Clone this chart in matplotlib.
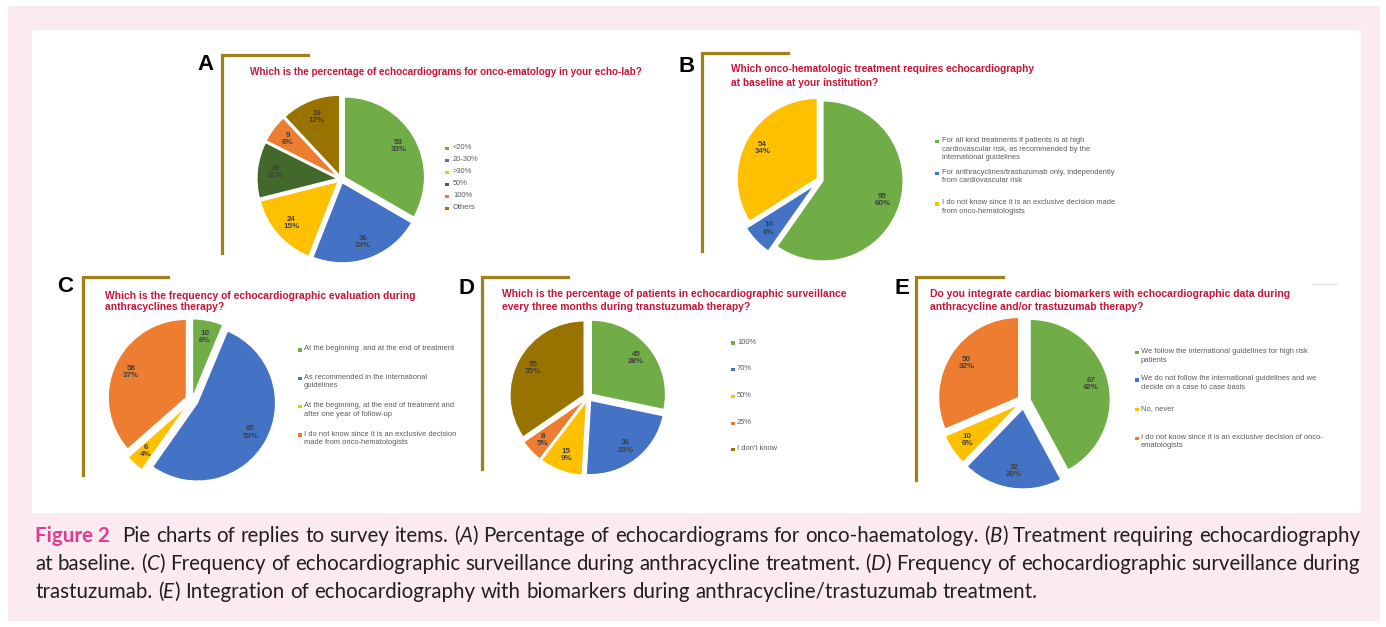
import matplotlib
matplotlib.use("Agg")
import matplotlib.pyplot as plt
from matplotlib.patches import Rectangle

W, H = 1386, 627

# colours used by the survey charts
GREEN = "#70AD47"
BLUE = "#4472C4"
YELLOW = "#FFC000"
DKGREEN = "#43682B"
ORANGE = "#ED7D31"
BROWN = "#997300"

# ---- data ----
a_labels = ["<20%", "20-30%", ">30%", "50%", "100%", "Others"]
a_counts = [53, 36, 24, 18, 9, 19]
a_pcts = ["33%", "23%", "15%", "11%", "6%", "12%"]
a_colors = [GREEN, BLUE, YELLOW, DKGREEN, ORANGE, BROWN]

b_labels = ["For all kind treatments if patients is at high\ncardiovascular risk, as recommended by the\ninternational guidelines",
            "For anthracyclines/trastuzumab only, independently\nfrom cardiovascular risk",
            "I do not know since it is an exclusive decision made\nfrom onco-hematologists"]
b_counts = [95, 10, 54]
b_pcts = ["60%", "6%", "34%"]
b_colors = [GREEN, BLUE, YELLOW]

c_labels = ["At the beginning  and at the end of treatment",
            "As recommended in the international\nguidelines",
            "At the beginning, at the end of treatment and\nafter one year of follow-up",
            "I do not know since it is an exclusive decision\nmade from onco-hematologists"]
c_counts = [10, 85, 6, 58]
c_pcts = ["6%", "53%", "4%", "37%"]
c_colors = [GREEN, BLUE, YELLOW, ORANGE]

d_labels = ["100%", "70%", "50%", "25%", "I don't know"]
d_counts = [45, 36, 15, 8, 55]
d_pcts = ["28%", "23%", "9%", "5%", "35%"]
d_colors = [GREEN, BLUE, YELLOW, ORANGE, BROWN]

e_labels = ["We follow the international guidelines for high risk\npatients",
            "We do not follow the international guidelines and we\ndecide on a case to case basis",
            "No, never",
            "I do not know since it is an exclusive decision of onco-\nematologists"]
e_counts = [67, 32, 10, 50]
e_pcts = ["42%", "20%", "6%", "32%"]
e_colors = [GREEN, BLUE, YELLOW, ORANGE]

titles = {
    "A": ["Which is the percentage of echocardiograms for onco-ematology in your echo-lab?"],
    "B": ["Which onco-hematologic treatment requires echocardiography",
          "at baseline at your institution?"],
    "C": ["Which is the frequency of echocardiographic evaluation during",
          "anthracyclines therapy?"],
    "D": ["Which is the percentage of patients in echocardiographic surveillance",
          "every three months during transtuzumab therapy?"],
    "E": ["Do you integrate cardiac biomarkers with echocardiographic data during",
          "anthracycline and/or trastuzumab therapy?"],
}

caption = [
    "*Figure~2* Pie charts of replies to survey items. (_A_) Percentage of echocardiograms for onco-haematology. (_B_) Treatment requiring echocardiography",
    "at baseline. (_C_) Frequency of echocardiographic surveillance during anthracycline treatment. (_D_) Frequency of echocardiographic surveillance during",
    "trastuzumab. (_E_) Integration of echocardiography with biomarkers during anthracycline/trastuzumab treatment.",
]

fig = plt.figure(figsize=(W / 100, H / 100), dpi=100)
fig.patch.set_facecolor("white")

# pixel-coordinate overlay
bg = fig.add_axes([0, 0, 1, 1])
bg.set_xlim(0, W)
bg.set_ylim(H, 0)
bg.axis("off")

bg.add_patch(Rectangle((8, 6), 1372, 615, color="#FBEAF1", lw=0))
bg.add_patch(Rectangle((32, 30), 1329, 483, color="white", lw=0))
bg.plot([1312, 1337], [284, 284], color="#E3E3E3", lw=1)

BRACKET = "#A17F1A"
TITLE_RED = "#CC1236"
LEG_GRAY = "#595959"


def panel(letter, lx, ly, bx, btop, bbot, bright, tx, tys, tsize):
    bg.text(lx, ly, letter, fontsize=16, fontweight="bold", family="Liberation Sans",
            ha="center", va="center")
    bg.plot([bx, bx, bright], [bbot, btop, btop], color=BRACKET, lw=2.3,
            solid_joinstyle="miter")
    for line, ty in zip(titles[letter], tys):
        bg.text(tx, ty, line, fontsize=tsize, fontweight="bold", color=TITLE_RED,
                family="Liberation Sans", ha="left", va="center")


def legend(mx, tx, ys, labels, colors):
    for y, lab, col in zip(ys, labels, colors):
        bg.add_patch(Rectangle((mx - 1.7, y - 1.7), 3.4, 3.4, color=col, lw=0))
        bg.text(tx, y - 4.5, lab, fontsize=5.4, color=LEG_GRAY, family="Liberation Sans",
                ha="left", va="top", linespacing=1.3)


def pie(cx, cy, R, counts, pcts, colors, explode):
    ax = fig.add_axes([(cx - 1.3 * R) / W, 1 - (cy + 1.3 * R) / H, 2.6 * R / W, 2.6 * R / H])
    labs = iter([f"{n}\n{p}" for n, p in zip(counts, pcts)])
    ax.pie(counts, colors=colors, explode=explode, startangle=90, counterclock=False,
           autopct=lambda p: next(labs), pctdistance=0.78,
           wedgeprops=dict(edgecolor="white", linewidth=0.8),
           textprops=dict(fontsize=5.8, fontweight="bold", color="#404040",
                          family="Liberation Sans", linespacing=1.05))
    ax.set_xlim(-1.3, 1.3)
    ax.set_ylim(-1.3, 1.3)
    ax.set_aspect("equal")
    ax.axis("off")


# A
panel("A", 205, 65, 222, 55, 253, 308, 250, [72], 7.15)
pie(341, 179, 80, a_counts, a_pcts, a_colors, [0.05] * 6)
legend(447, 453, [148.3, 160.5, 172.5, 184.7, 196.6, 208.3], a_labels, a_colors)

# B
panel("B", 687, 66, 702, 53, 251, 788, 731, [69, 83], 7.3)
pie(820, 180, 80, b_counts, b_pcts, b_colors, [0.04, 0.1, 0.04])
legend(937, 942, [141.7, 173.3, 204], b_labels, b_colors)

# C
panel("C", 65, 287, 83, 277, 475, 168, 105, [296, 307.5], 7.35)
pie(192, 400, 78, c_counts, c_pcts, c_colors, [0.04, 0.08, 0.1, 0.08])
legend(300, 304, [350, 378.3, 406.7, 435], c_labels, c_colors)

# D
panel("D", 467, 288, 482, 277, 469, 568, 502, [294, 306.5], 7.35)
pie(588, 397, 74, d_counts, d_pcts, d_colors, [0.06] * 5)
legend(733, 737, [343, 369.3, 396.7, 423.3, 449.3], d_labels, d_colors)

# E
panel("E", 902, 288, 916, 277, 480, 1003, 930, [294, 307], 7.45)
pie(1024, 401, 80, e_counts, e_pcts, e_colors, [0.08, 0.1, 0.08, 0.08])
legend(1137, 1141, [352.7, 380, 409.3, 438.3], e_labels, e_colors)

# ---- caption, justified by hand ----
renderer = fig.canvas.get_renderer()
CAP_SIZE = 14.8
CAP_FONT = "Lato"
CAP_COLOR = "#231F20"
left, right = 35, 1360
baselines = [542, 570, 598]


def draw_word(x, y, word):
    bold = word.startswith("*")
    if bold:
        parts = [(word.strip("*").replace("~", " "), "normal")]
    else:
        parts = [(s, "italic" if i % 2 else "normal") for i, s in enumerate(word.split("_")) if s]
    x0 = x
    for s, style in parts:
        t = bg.text(x, y, s, fontsize=CAP_SIZE, family=CAP_FONT, style=style,
                    fontweight="bold" if bold else "normal",
                    color="#E6398D" if bold else CAP_COLOR, ha="left", va="baseline")
        x += t.get_window_extent(renderer).width
    return x - x0, bold


for i, (line, y) in enumerate(zip(caption, baselines)):
    words = line.split(" ")
    # measure first, then remove and place with even gaps
    widths = []
    n_before = len(bg.texts)
    for w in words:
        wd, _ = draw_word(0, y, w)
        widths.append(wd)
    for t in bg.texts[n_before:]:
        t.remove()
    extra = 7 if words[0].startswith("*") else 0
    if i < len(caption) - 1:
        gap = (right - left - sum(widths) - extra) / (len(words) - 1)
    else:
        gap = 5.5
    x = left
    for w in words:
        wd, bold = draw_word(x, y, w)
        x += wd + gap + (extra if bold else 0)

fig.savefig("out.png", dpi=100)
